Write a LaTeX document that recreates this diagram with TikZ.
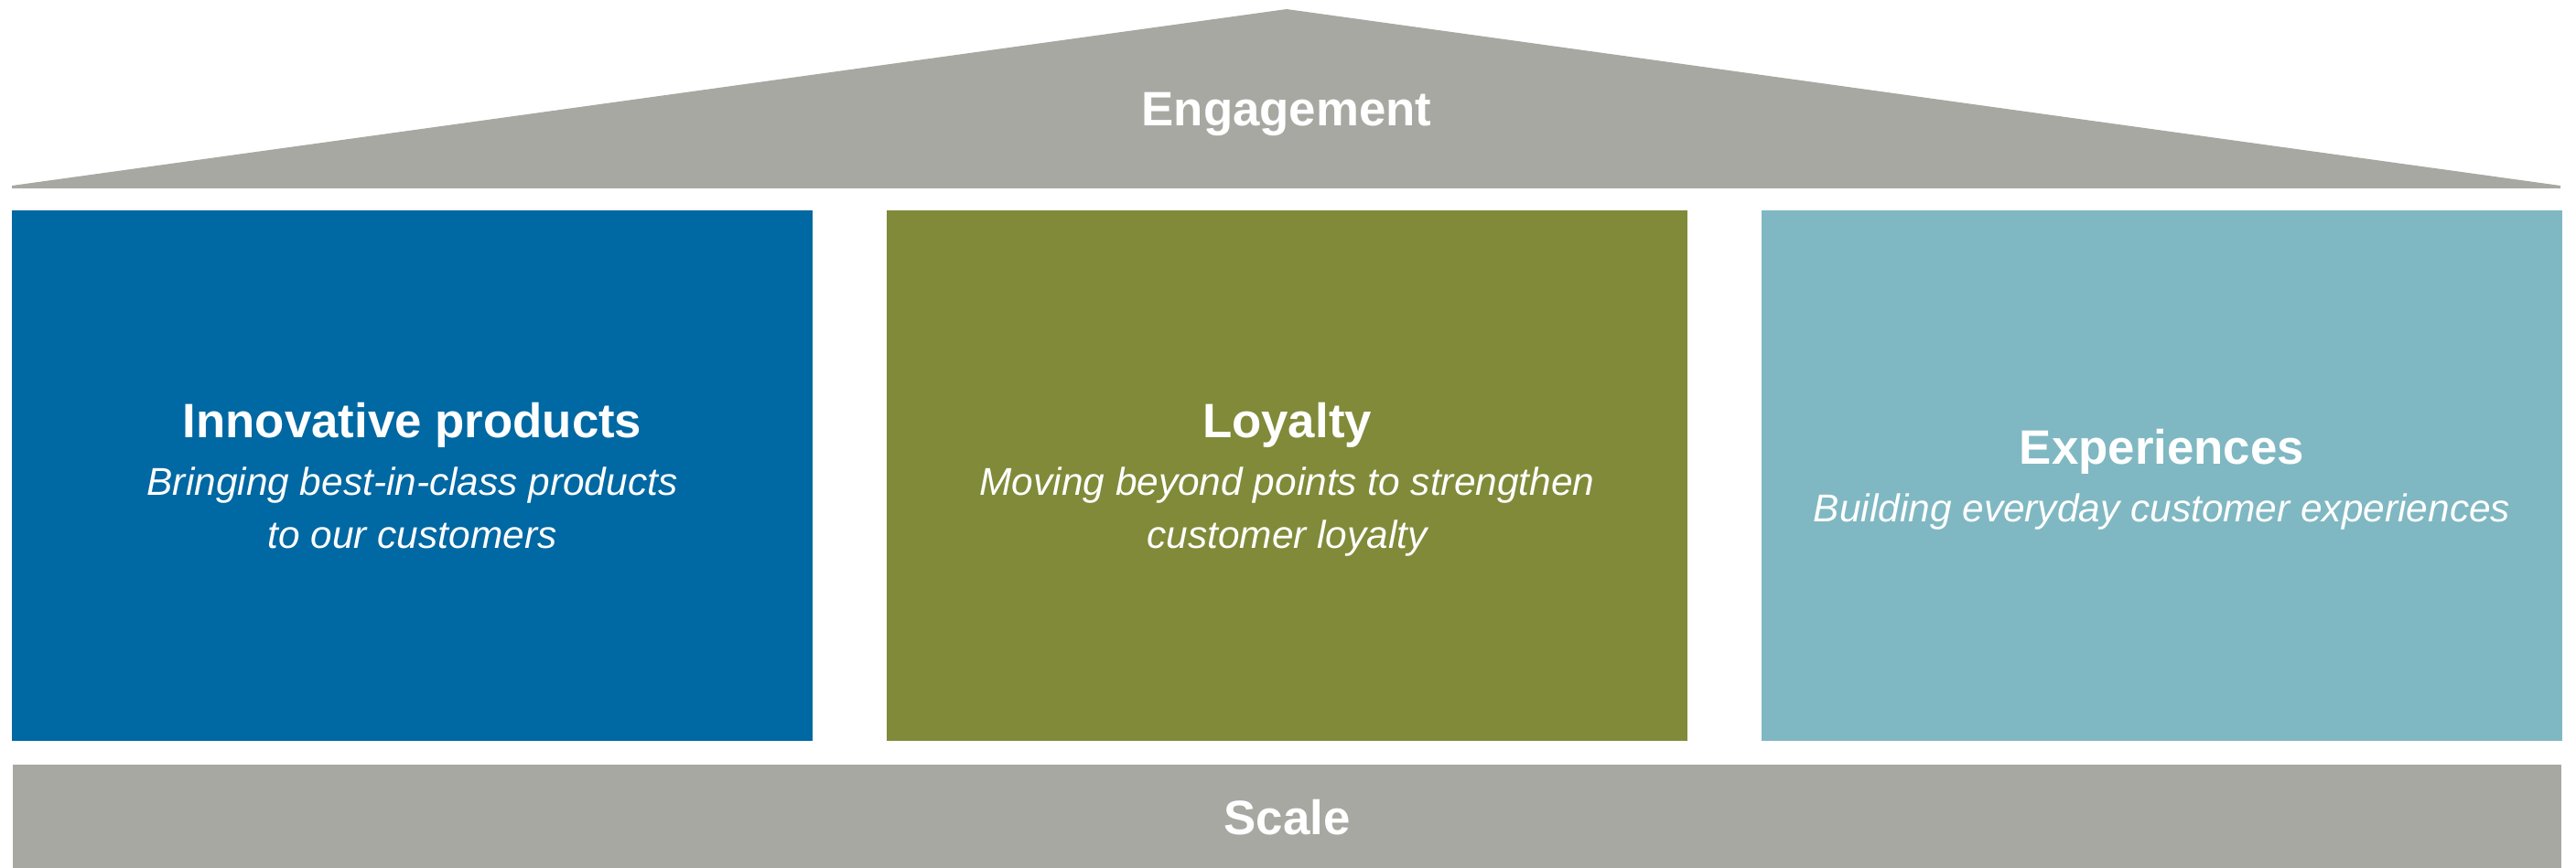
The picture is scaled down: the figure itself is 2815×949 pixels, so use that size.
\documentclass[tikz,border=0pt]{standalone}
\usepackage{fontspec}
\setmainfont{Liberation Sans}
\usetikzlibrary{positioning}
\definecolor{hsGrey}{HTML}{A8A8A3}
\definecolor{hsBlue}{HTML}{0068A2}
\definecolor{hsOlive}{HTML}{818A38}
\definecolor{hsTeal}{HTML}{7FB8C2}
\newcommand{\hstitle}{\fontsize{13.2}{14.3}\selectfont\upshape\bfseries}
\newcommand{\hssub}{\fontsize{10.6}{14.5}\selectfont\itshape}
\tikzset{
  pillar/.style={rectangle, draw=none, minimum width=218.9pt, minimum height=145pt,
    inner sep=0pt, align=center, text=white, text depth=0pt, font=\hssub},
  band/.style={rectangle, draw=none, fill=hsGrey, minimum width=696.3pt,
    minimum height=28.75pt, inner sep=0pt, text=white, text depth=0pt, font=\hstitle},
  roofText/.style={text=white, inner sep=0pt, text depth=0pt, font=\hstitle}
}
\begin{document}
\begin{tikzpicture}[x=0.25pt, y=-0.25pt]
  \useasboundingbox (0,0) rectangle (2815,949);
  % roof
  \fill[hsGrey] (13,206) -- (13,203) -- (1406,10) -- (2798,203) -- (2798,206) -- cycle;
  \node[roofText] (roof) at (1406,119) {Engagement};
  % pillars
  \node[pillar, fill=hsBlue] (inno) at (450.5,520)
    {{\hstitle Innovative products}\\[1.2pt]Bringing best-in-class products\\to our customers};
  \node[pillar, fill=hsOlive, right=19.7pt of inno] (loyal)
    {{\hstitle Loyalty}\\[1.2pt]Moving beyond points to strengthen\\customer loyalty};
  \node[pillar, fill=hsTeal, right=19.7pt of loyal] (exper)
    {{\hstitle Experiences}\\[1.2pt]Building everyday customer experiences};
  % base
  \node[band, below=6pt of loyal] (scale) {Scale};
\end{tikzpicture}
\end{document}
